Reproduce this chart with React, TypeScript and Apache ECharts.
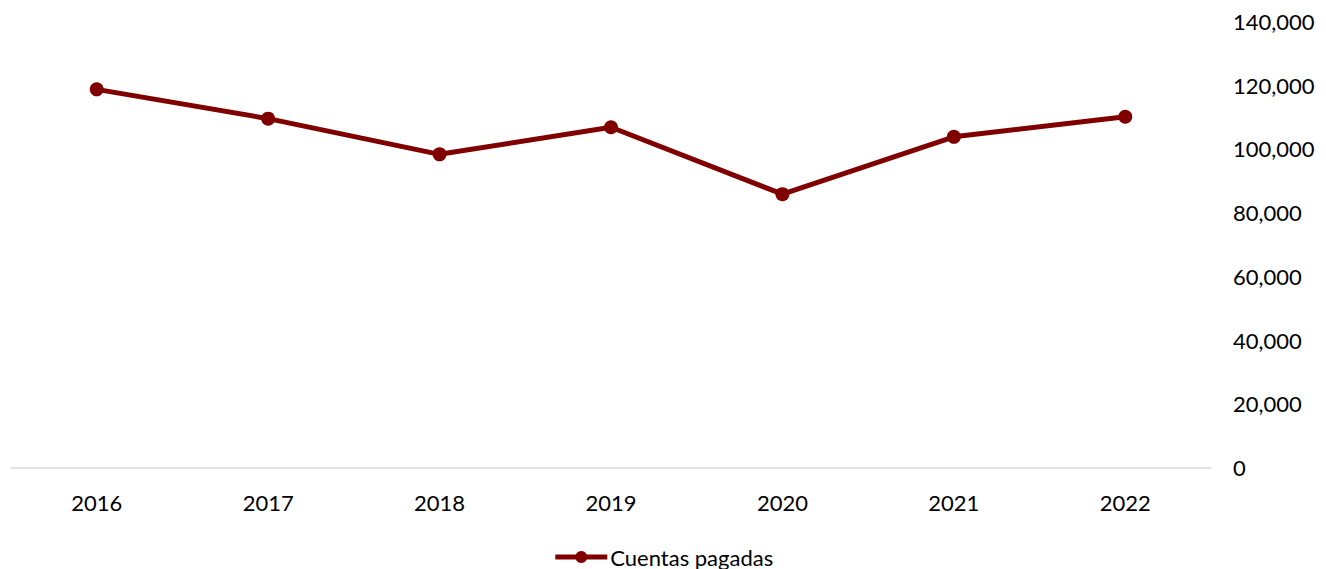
import React, { useEffect, useRef } from "react";
import * as echarts from "echarts";

const categories = ["2016", "2017", "2018", "2019", "2020", "2021", "2022"];
const cuentasPagadas = [118700, 109500, 98300, 106800, 85800, 103800, 110100];
const seriesName = "Cuentas pagadas";

export default function App() {
  const ref = useRef<HTMLDivElement>(null);
  useEffect(() => {
    if (!ref.current) return;
    const chart = echarts.init(ref.current, undefined, { renderer: "svg" });
    const font = "Lato, 'Open Sans', sans-serif";
    chart.setOption({
      animation: false,
      backgroundColor: "#ffffff",
      grid: { left: 11, right: 115, top: 21.5, bottom: 101.5, containLabel: false },
      legend: {
        data: [seriesName],
        bottom: 0,
        left: "center",
        padding: [5, 5, 1, 5],
        itemWidth: 52,
        itemHeight: 15,
        itemGap: 10,
        lineStyle: { width: 5 },
        textStyle: { fontFamily: font, fontSize: 22, color: "#000", padding: [0, 0, 0, -2] },
      },
      xAxis: {
        type: "category",
        data: categories,
        boundaryGap: true,
        axisLine: { lineStyle: { color: "#d9d9d9", width: 1.5 } },
        axisTick: { show: false },
        axisLabel: { fontFamily: font, fontSize: 22, color: "#000", margin: 24 },
      },
      yAxis: {
        type: "value",
        position: "right",
        min: 0,
        max: 140000,
        interval: 20000,
        splitLine: { show: false },
        axisLine: { show: false },
        axisTick: { show: false },
        axisLabel: {
          fontFamily: font,
          fontSize: 22,
          color: "#000",
          margin: 22,
          formatter: (v: number) => v.toLocaleString("en-US"),
        },
      },
      series: [
        {
          name: seriesName,
          type: "line",
          data: cuentasPagadas,
          symbol: "circle",
          symbolSize: 14,
          lineStyle: { color: "#800000", width: 5 },
          itemStyle: { color: "#800000" },
        },
      ],
    });
    return () => chart.dispose();
  }, []);
  return (
    <div
      ref={ref}
      style={{ position: "fixed", left: 0, top: 0, width: 1326, height: 569 }}
    />
  );
}
